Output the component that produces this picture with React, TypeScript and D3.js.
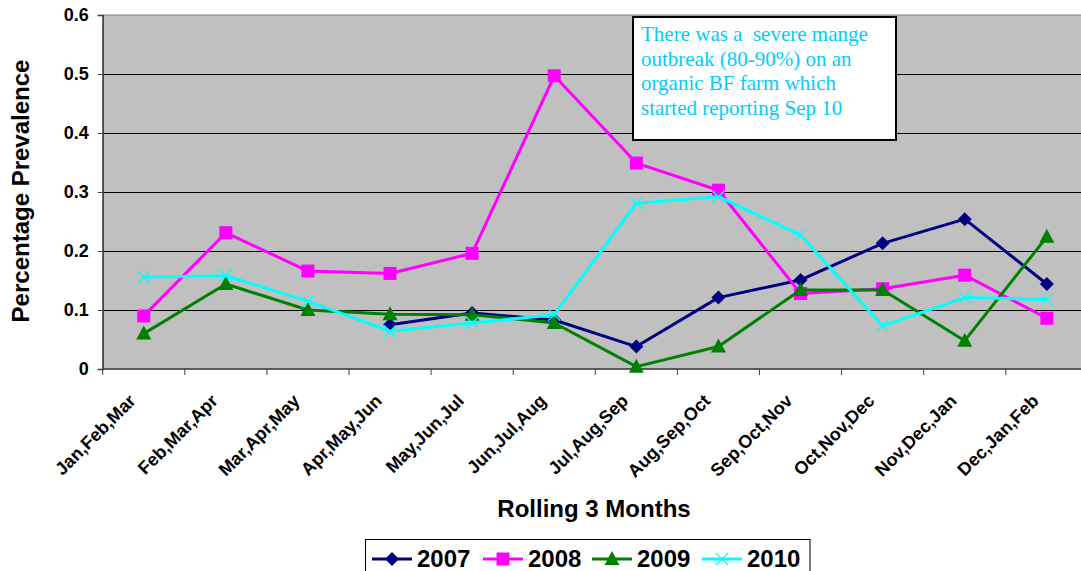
import React, { useEffect, useRef } from "react";
import * as d3 from "d3";

const categories = [
  "Jan,Feb,Mar",
  "Feb,Mar,Apr",
  "Mar,Apr,May",
  "Apr,May,Jun",
  "May,Jun,Jul",
  "Jun,Jul,Aug",
  "Jul,Aug,Sep",
  "Aug,Sep,Oct",
  "Sep,Oct,Nov",
  "Oct,Nov,Dec",
  "Nov,Dec,Jan",
  "Dec,Jan,Feb",
];

const s2007 = [null, null, null, 0.075, 0.095, 0.083, 0.038, 0.121, 0.151, 0.213, 0.254, 0.144];
const s2008 = [0.09, 0.231, 0.166, 0.162, 0.196, 0.497, 0.349, 0.303, 0.128, 0.136, 0.159, 0.086];
const s2009 = [0.06, 0.144, 0.1, 0.093, 0.092, 0.078, 0.004, 0.038, 0.134, 0.134, 0.048, 0.224];
const s2010 = [0.156, 0.158, 0.115, 0.064, 0.078, 0.092, 0.281, 0.292, 0.227, 0.073, 0.121, 0.118];

const yTicks = [0, 0.1, 0.2, 0.3, 0.4, 0.5, 0.6];

const noteLines = [
  "There was a  severe mange",
  "outbreak (80-90%) on an",
  "organic BF farm which",
  "started reporting Sep 10",
];

const series = [
  { name: "2007", values: s2007, color: "#000080", marker: "diamond" },
  { name: "2008", values: s2008, color: "#FF00FF", marker: "square" },
  { name: "2009", values: s2009, color: "#008000", marker: "triangle" },
  { name: "2010", values: s2010, color: "#00FFFF", marker: "x" },
];

const App = () => {
  const svgRef = useRef(null);

  useEffect(() => {
    document.body.style.margin = "0";
    const width = 1081;
    const height = 571;
    const plot = { left: 102.7, top: 15, bottom: 369, right: 102.7 + 12 * 82.1 };
    const font = "Arial, 'Liberation Sans', sans-serif";

    const xScale = d3.scaleBand().domain(categories).range([plot.left, plot.right]);
    const xc = (c) => xScale(c) + xScale.bandwidth() / 2;
    const yScale = d3.scaleLinear().domain([0, 0.6]).range([plot.bottom, plot.top]);

    const svg = d3.select(svgRef.current);
    svg.selectAll("*").remove();
    svg.attr("width", width).attr("height", height);

    // background
    svg.append("rect").attr("width", width).attr("height", height).attr("fill", "#fff");

    // plot area
    svg
      .append("rect")
      .attr("x", plot.left)
      .attr("y", plot.top)
      .attr("width", plot.right - plot.left)
      .attr("height", plot.bottom - plot.top)
      .attr("fill", "#C0C0C0")
      .attr("stroke", "#808080")
      .attr("stroke-width", 1);

    // gridlines
    svg
      .append("g")
      .selectAll("line")
      .data(yTicks.slice(1, -1))
      .enter()
      .append("line")
      .attr("x1", plot.left)
      .attr("x2", plot.right)
      .attr("y1", (d) => Math.round(yScale(d)) + 0.5)
      .attr("y2", (d) => Math.round(yScale(d)) + 0.5)
      .attr("stroke", "#000")
      .attr("stroke-width", 1);

    // y axis
    const yAxis = d3.axisLeft(yScale).tickValues(yTicks).tickSize(5).tickFormat((d) => (d === 0 ? "0" : d3.format(".1f")(d)));
    const yg = svg.append("g").attr("transform", `translate(${plot.left},0)`).call(yAxis);
    yg.select(".domain").attr("stroke", "#404040").attr("stroke-width", 1.5);
    yg.selectAll(".tick line").attr("stroke", "#404040");
    yg.selectAll("text")
      .attr("x", -14)
      .style("font-family", font)
      .style("font-weight", "bold")
      .style("font-size", "18px")
      .attr("fill", "#000");

    // x axis
    const xg = svg.append("g").attr("transform", `translate(0,${plot.bottom})`);
    xg.append("line")
      .attr("x1", plot.left)
      .attr("x2", plot.right)
      .attr("stroke", "#404040")
      .attr("stroke-width", 1.5);
    xg.selectAll(".xt")
      .data(categories)
      .enter()
      .append("line")
      .attr("x1", (d) => xScale(d))
      .attr("x2", (d) => xScale(d))
      .attr("y1", 0)
      .attr("y2", 6)
      .attr("stroke", "#404040");
    xg.selectAll(".xl")
      .data(categories)
      .enter()
      .append("text")
      .attr("transform", (d) => `translate(${xc(d) - 7},${33}) rotate(-45)`)
      .attr("text-anchor", "end")
      .style("font-family", font)
      .style("font-weight", "bold")
      .style("font-size", "18px")
      .text((d) => d);

    // axis titles
    svg
      .append("text")
      .attr("transform", `translate(29,191) rotate(-90)`)
      .attr("text-anchor", "middle")
      .style("font-family", font)
      .style("font-weight", "bold")
      .style("font-size", "24px")
      .text("Percentage Prevalence");

    svg
      .append("text")
      .attr("x", 594)
      .attr("y", 517)
      .attr("text-anchor", "middle")
      .style("font-family", font)
      .style("font-weight", "bold")
      .style("font-size", "24px")
      .text("Rolling 3 Months");

    // markers
    const drawMarker = (g, type, color, x, y) => {
      if (type === "diamond") {
        g.append("path")
          .attr("d", `M${x},${y - 7}L${x + 7},${y}L${x},${y + 7}L${x - 7},${y}Z`)
          .attr("fill", color);
      } else if (type === "square") {
        g.append("rect").attr("x", x - 6.5).attr("y", y - 6.5).attr("width", 13).attr("height", 13).attr("fill", color);
      } else if (type === "triangle") {
        g.append("path")
          .attr("d", `M${x},${y - 8}L${x + 7.5},${y + 6}L${x - 7.5},${y + 6}Z`)
          .attr("fill", color);
      } else {
        g.append("path")
          .attr("d", `M${x - 6},${y - 6}L${x + 6},${y + 6}M${x + 6},${y - 6}L${x - 6},${y + 6}`)
          .attr("stroke", color)
          .attr("stroke-width", 1.2)
          .attr("fill", "none");
      }
    };

    const line = d3
      .line()
      .defined((d) => d.v !== null)
      .x((d) => xc(d.c))
      .y((d) => yScale(d.v));

    series.forEach((s) => {
      const pts = categories.map((c, i) => ({ c, v: s.values[i] }));
      const g = svg.append("g");
      g.append("path")
        .datum(pts)
        .attr("d", line)
        .attr("fill", "none")
        .attr("stroke", s.color)
        .attr("stroke-width", 3)
        .attr("stroke-linejoin", "round");
      pts
        .filter((p) => p.v !== null)
        .forEach((p) => drawMarker(g, s.marker, s.color, xc(p.c), yScale(p.v)));
    });

    // annotation box
    const note = svg.append("g");
    note
      .append("rect")
      .attr("x", 633)
      .attr("y", 17)
      .attr("width", 263)
      .attr("height", 123)
      .attr("fill", "#fff")
      .attr("stroke", "#000")
      .attr("stroke-width", 2);
    note
      .selectAll("text")
      .data(noteLines)
      .enter()
      .append("text")
      .attr("x", 641)
      .attr("y", (_, i) => 41 + i * 24.6)
      .style("font-family", "'Liberation Serif', 'Times New Roman', serif")
      .style("font-size", "21px")
      .attr("fill", "#00CCFF")
      .attr("xml:space", "preserve")
      .style("white-space", "pre")
      .text((d) => d);

    // legend
    const lg = svg.append("g");
    lg.append("rect")
      .attr("x", 365.5)
      .attr("y", 539.5)
      .attr("width", 444.5)
      .attr("height", 40)
      .attr("fill", "#fff")
      .attr("stroke", "#000")
      .attr("stroke-width", 1);
    const legX = [372, 483, 592, 702];
    series.forEach((s, i) => {
      const x0 = legX[i];
      const y0 = 559;
      lg.append("line")
        .attr("x1", x0)
        .attr("x2", x0 + 40)
        .attr("y1", y0)
        .attr("y2", y0)
        .attr("stroke", s.color)
        .attr("stroke-width", 3);
      drawMarker(lg, s.marker, s.color, x0 + 20, y0);
      lg.append("text")
        .attr("x", x0 + 45)
        .attr("y", y0 + 8)
        .style("font-family", font)
        .style("font-weight", "bold")
        .style("font-size", "24px")
        .text(s.name);
    });
  }, []);

  return (
    <div>
      <svg ref={svgRef}></svg>
    </div>
  );
};

export default App;
